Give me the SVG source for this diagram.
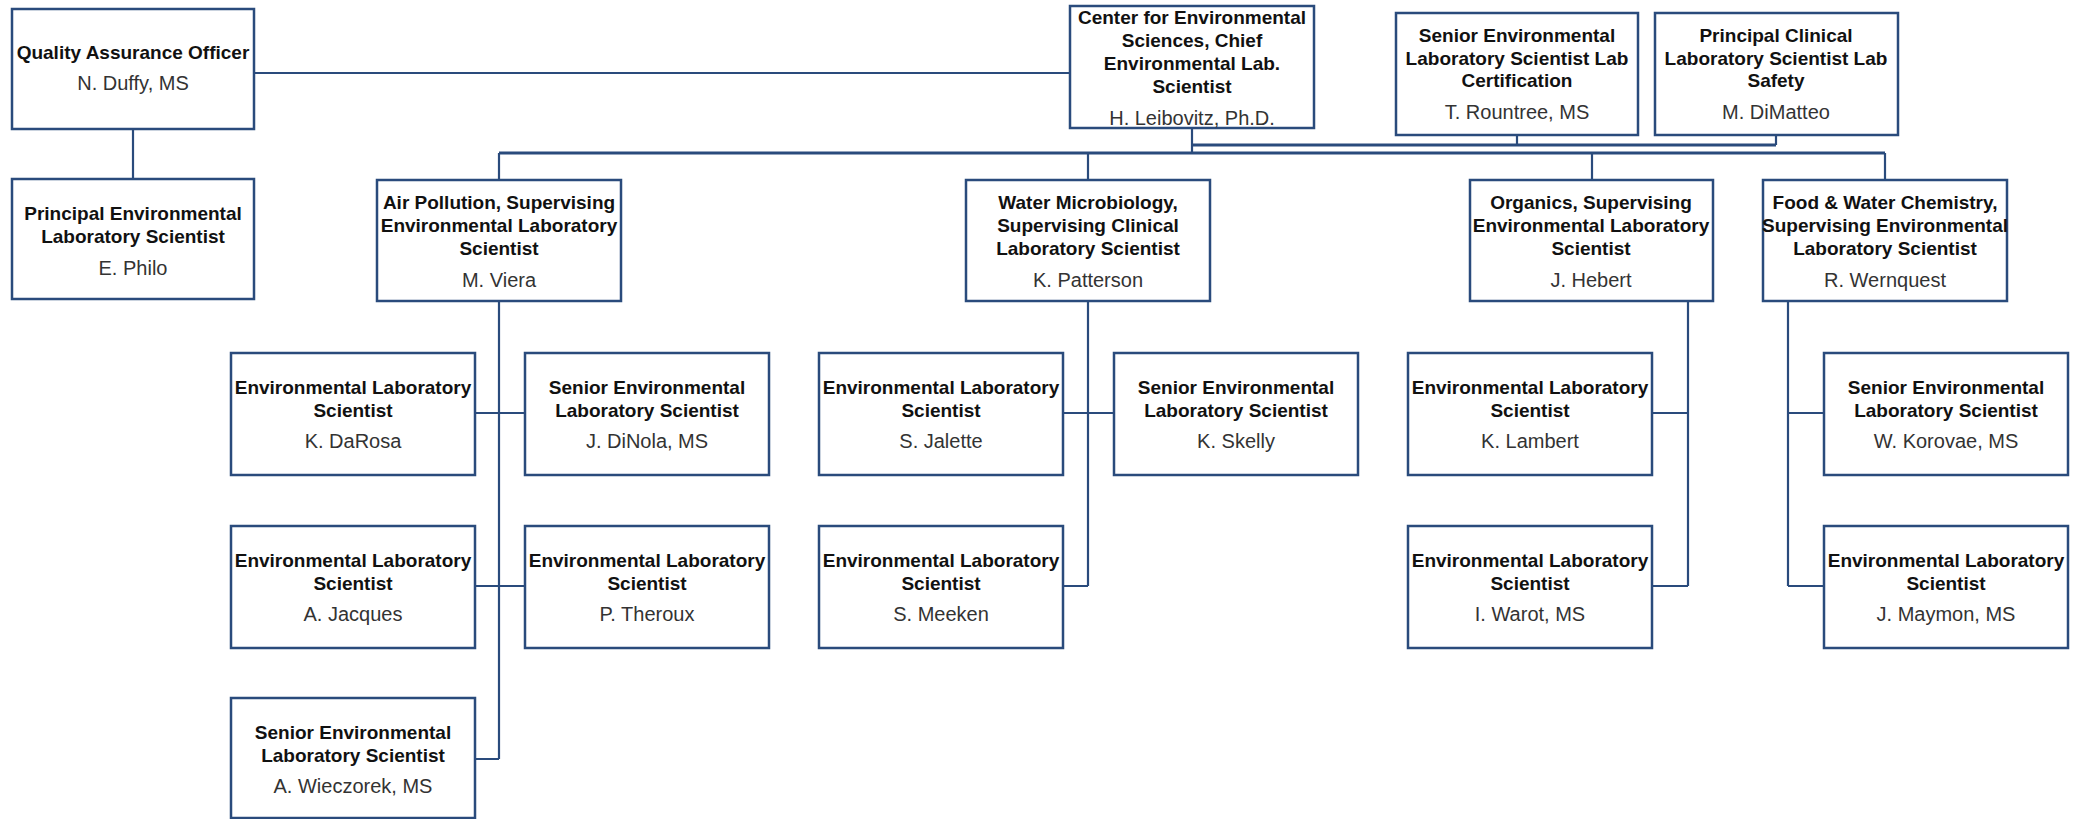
<svg xmlns="http://www.w3.org/2000/svg" width="2078" height="819" viewBox="0 0 2078 819">
<style>
.box{fill:#fff;stroke:#2A4B7C;stroke-width:2.5}
.c{fill:none;stroke:#2A4B7C;stroke-width:2.2}
.b{fill:none;stroke:#2A4B7C;stroke-width:3}
.t{font-family:"Liberation Sans",Arial,sans-serif;font-size:19px;font-weight:bold;fill:#111;text-anchor:middle}
.n{font-family:"Liberation Sans",Arial,sans-serif;font-size:20px;fill:#333;text-anchor:middle}
</style>
<rect width="2078" height="819" fill="#fff"/>
<g id="connectors">
<path class="c" d="M254,73H1070"/>
<path class="c" d="M133,129V179"/>
<path class="c" d="M1192,128V153"/>
<path class="b" d="M1192,145H1776"/>
<path class="c" d="M1517,135V145M1776,135V145"/>
<path class="b" d="M499,153H1885"/>
<path class="c" d="M499,153V180M1088,153V180M1592,153V180M1885,153V180"/>
<path class="c" d="M499,301V759M475,413H525M475,586H525M475,759H499"/>
<path class="c" d="M1088,301V586M1063,413H1114M1063,586H1088"/>
<path class="c" d="M1688,301V586M1652,413H1688M1652,586H1688"/>
<path class="c" d="M1788,301V586M1788,413H1824M1788,586H1824"/>
</g>
<g id="qa">
<rect class="box" x="12" y="9" width="242" height="120"/>
<text class="t" x="133" y="59">Quality Assurance Officer</text>
<text class="n" x="133" y="90">N. Duffy, MS</text>
</g>
<g id="philo">
<rect class="box" x="12" y="179" width="242" height="120"/>
<text class="t" x="133" y="220">Principal Environmental</text>
<text class="t" x="133" y="243">Laboratory Scientist</text>
<text class="n" x="133" y="275">E. Philo</text>
</g>
<g id="center">
<rect class="box" x="1070" y="6" width="244" height="122"/>
<text class="t" x="1192" y="24">Center for Environmental</text>
<text class="t" x="1192" y="47">Sciences, Chief</text>
<text class="t" x="1192" y="70">Environmental Lab.</text>
<text class="t" x="1192" y="93">Scientist</text>
<text class="n" x="1192" y="125">H. Leibovitz, Ph.D.</text>
</g>
<g id="cert">
<rect class="box" x="1396" y="13" width="242" height="122"/>
<text class="t" x="1517" y="42">Senior Environmental</text>
<text class="t" x="1517" y="65">Laboratory Scientist Lab</text>
<text class="t" x="1517" y="87">Certification</text>
<text class="n" x="1517" y="119">T. Rountree, MS</text>
</g>
<g id="safety">
<rect class="box" x="1655" y="13" width="243" height="122"/>
<text class="t" x="1776" y="42">Principal Clinical</text>
<text class="t" x="1776" y="65">Laboratory Scientist Lab</text>
<text class="t" x="1776" y="87">Safety</text>
<text class="n" x="1776" y="119">M. DiMatteo</text>
</g>
<g id="air">
<rect class="box" x="377" y="180" width="244" height="121"/>
<text class="t" x="499" y="209">Air Pollution, Supervising</text>
<text class="t" x="499" y="232">Environmental Laboratory</text>
<text class="t" x="499" y="255">Scientist</text>
<text class="n" x="499" y="287">M. Viera</text>
</g>
<g id="water">
<rect class="box" x="966" y="180" width="244" height="121"/>
<text class="t" x="1088" y="209">Water Microbiology,</text>
<text class="t" x="1088" y="232">Supervising Clinical</text>
<text class="t" x="1088" y="255">Laboratory Scientist</text>
<text class="n" x="1088" y="287">K. Patterson</text>
</g>
<g id="organics">
<rect class="box" x="1470" y="180" width="243" height="121"/>
<text class="t" x="1591" y="209">Organics, Supervising</text>
<text class="t" x="1591" y="232">Environmental Laboratory</text>
<text class="t" x="1591" y="255">Scientist</text>
<text class="n" x="1591" y="287">J. Hebert</text>
</g>
<g id="food">
<rect class="box" x="1763" y="180" width="244" height="121"/>
<text class="t" x="1885" y="209">Food &amp; Water Chemistry,</text>
<text class="t" x="1885" y="232">Supervising Environmental</text>
<text class="t" x="1885" y="255">Laboratory Scientist</text>
<text class="n" x="1885" y="287">R. Wernquest</text>
</g>
<g id="darosa">
<rect class="box" x="231" y="353" width="244" height="122"/>
<text class="t" x="353" y="394">Environmental Laboratory</text>
<text class="t" x="353" y="417">Scientist</text>
<text class="n" x="353" y="448">K. DaRosa</text>
</g>
<g id="dinola">
<rect class="box" x="525" y="353" width="244" height="122"/>
<text class="t" x="647" y="394">Senior Environmental</text>
<text class="t" x="647" y="417">Laboratory Scientist</text>
<text class="n" x="647" y="448">J. DiNola, MS</text>
</g>
<g id="jacques">
<rect class="box" x="231" y="526" width="244" height="122"/>
<text class="t" x="353" y="567">Environmental Laboratory</text>
<text class="t" x="353" y="590">Scientist</text>
<text class="n" x="353" y="621">A. Jacques</text>
</g>
<g id="theroux">
<rect class="box" x="525" y="526" width="244" height="122"/>
<text class="t" x="647" y="567">Environmental Laboratory</text>
<text class="t" x="647" y="590">Scientist</text>
<text class="n" x="647" y="621">P. Theroux</text>
</g>
<g id="wieczorek">
<rect class="box" x="231" y="698" width="244" height="120"/>
<text class="t" x="353" y="739">Senior Environmental</text>
<text class="t" x="353" y="762">Laboratory Scientist</text>
<text class="n" x="353" y="793">A. Wieczorek, MS</text>
</g>
<g id="jalette">
<rect class="box" x="819" y="353" width="244" height="122"/>
<text class="t" x="941" y="394">Environmental Laboratory</text>
<text class="t" x="941" y="417">Scientist</text>
<text class="n" x="941" y="448">S. Jalette</text>
</g>
<g id="skelly">
<rect class="box" x="1114" y="353" width="244" height="122"/>
<text class="t" x="1236" y="394">Senior Environmental</text>
<text class="t" x="1236" y="417">Laboratory Scientist</text>
<text class="n" x="1236" y="448">K. Skelly</text>
</g>
<g id="meeken">
<rect class="box" x="819" y="526" width="244" height="122"/>
<text class="t" x="941" y="567">Environmental Laboratory</text>
<text class="t" x="941" y="590">Scientist</text>
<text class="n" x="941" y="621">S. Meeken</text>
</g>
<g id="lambert">
<rect class="box" x="1408" y="353" width="244" height="122"/>
<text class="t" x="1530" y="394">Environmental Laboratory</text>
<text class="t" x="1530" y="417">Scientist</text>
<text class="n" x="1530" y="448">K. Lambert</text>
</g>
<g id="warot">
<rect class="box" x="1408" y="526" width="244" height="122"/>
<text class="t" x="1530" y="567">Environmental Laboratory</text>
<text class="t" x="1530" y="590">Scientist</text>
<text class="n" x="1530" y="621">I. Warot, MS</text>
</g>
<g id="korovae">
<rect class="box" x="1824" y="353" width="244" height="122"/>
<text class="t" x="1946" y="394">Senior Environmental</text>
<text class="t" x="1946" y="417">Laboratory Scientist</text>
<text class="n" x="1946" y="448">W. Korovae, MS</text>
</g>
<g id="maymon">
<rect class="box" x="1824" y="526" width="244" height="122"/>
<text class="t" x="1946" y="567">Environmental Laboratory</text>
<text class="t" x="1946" y="590">Scientist</text>
<text class="n" x="1946" y="621">J. Maymon, MS</text>
</g>
</svg>
